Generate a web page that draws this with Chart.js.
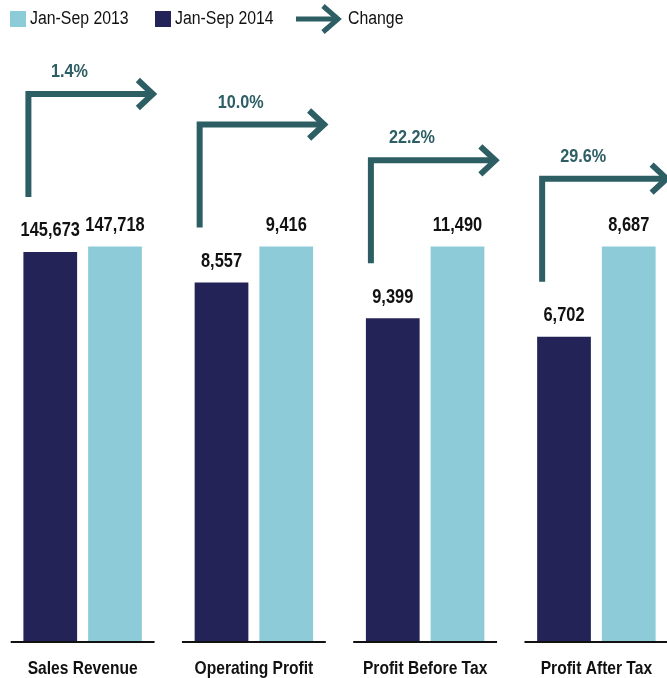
<!DOCTYPE html>
<html>
<head>
<meta charset="utf-8">
<script src="https://cdn.jsdelivr.net/npm/chart.js@4.4.0/dist/chart.umd.min.js"></script>
<style>
    html, body { margin: 0; padding: 0; background: #fff; overflow: hidden; }
    body { width: 667px; height: 678px; position: relative; font-family: "Liberation Sans", Arial, sans-serif; }
    #chart-box { position: absolute; left: -3px; top: 0; width: 685px; height: 678px; }
    .legend-item { position: absolute; font-size: 18px; color: #111; line-height: 20px; top: 8px;
                   transform: scaleX(0.88); transform-origin: left center; white-space: nowrap; }
    .swatch { position: absolute; width: 16px; height: 16px; top: 11px; }
</style>
</head>
<body>
<div id="chart-box"><canvas id="resultChart"></canvas></div>

<!-- Legend -->
<div class="swatch" style="left:10px;background:#8ccbd7"></div>
<div class="legend-item" style="left:30px">Jan-Sep 2013</div>
<div class="swatch" style="left:155px;background:#232357"></div>
<div class="legend-item" style="left:175px">Jan-Sep 2014</div>
<svg style="position:absolute;left:294px;top:4px" width="50" height="30" viewBox="0 0 50 30">
    <path d="M2 15 H44" stroke="#2d5e63" stroke-width="5" fill="none"/>
    <path d="M29 2 L44 15 L29 28" stroke="#2d5e63" stroke-width="5" fill="none"/>
</svg>
<div class="legend-item" style="left:348px">Change</div>

<script>
// ============================================
// DATA
// ============================================
const categories = ['Sales Revenue', 'Operating Profit', 'Profit Before Tax', 'Profit After Tax'];
const darkValues = [145673, 8557, 9399, 6702];    // left bar in each group
const lightValues = [147718, 9416, 11490, 8687];  // right bar in each group
const changeLabels = ['1.4%', '10.0%', '22.2%', '29.6%'];

const DARK = '#232357';
const LIGHT = '#8ccbd7';
const TEAL = '#2d5e63';
const FONT = '"Liberation Sans", Arial, sans-serif';
const SQUEEZE = 0.82;  // fake a condensed face

// each group is drawn against its own largest value
const groupMax = categories.map((_, i) => Math.max(darkValues[i], lightValues[i]));

function fmt(v) {
    return v.toLocaleString('en-US');
}

// centred text, squeezed horizontally
function narrowText(ctx, text, x, y, sx) {
    ctx.save();
    ctx.translate(x, y);
    ctx.scale(sx, 1);
    ctx.fillText(text, 0, 0);
    ctx.restore();
}

// Baselines, labels and change arrows
const decorPlugin = {
    id: 'decor',
    beforeDatasetsDraw(chart) {
        const ctx = chart.ctx;
        const xs = chart.scales.x;
        const step = xs.width / categories.length;
        const y = chart.chartArea.bottom + 1;
        ctx.save();
        ctx.strokeStyle = '#111';
        ctx.lineWidth = 2;
        categories.forEach((_, i) => {
            const cx = xs.getPixelForValue(i);
            ctx.beginPath();
            ctx.moveTo(cx - step * 0.42, y);
            ctx.lineTo(cx + step * 0.42, y);
            ctx.stroke();
        });

        // category names
        ctx.fillStyle = '#111';
        ctx.font = 'bold 19px ' + FONT;
        ctx.textAlign = 'center';
        ctx.textBaseline = 'alphabetic';
        categories.forEach((name, i) => {
            narrowText(ctx, name, xs.getPixelForValue(i), 673.5, SQUEEZE);
        });
        ctx.restore();
    },
    afterDatasetsDraw(chart) {
        const ctx = chart.ctx;
        const darkMeta = chart.getDatasetMeta(0);
        const lightMeta = chart.getDatasetMeta(1);
        ctx.save();

        // value labels
        ctx.fillStyle = '#111';
        ctx.font = 'bold 20px ' + FONT;
        ctx.textAlign = 'center';
        ctx.textBaseline = 'alphabetic';
        [[darkMeta, darkValues], [lightMeta, lightValues]].forEach(([meta, vals]) => {
            meta.data.forEach((bar, i) => {
                narrowText(ctx, fmt(vals[i]), bar.x, bar.y - 15.5, SQUEEZE);
            });
        });

        // change arrows
        ctx.strokeStyle = TEAL;
        ctx.fillStyle = TEAL;
        ctx.lineWidth = 6;
        ctx.lineJoin = 'miter';
        ctx.lineCap = 'butt';
        ctx.font = 'bold 18px ' + FONT;
        darkMeta.data.forEach((dBar, i) => {
            const lBar = lightMeta.data[i];
            const vx = dBar.x - dBar.width / 2 + 5;
            const bottom = dBar.y - 55;
            const top = bottom - 103;
            const tip = lBar.x + lBar.width / 2 + 11;

            ctx.beginPath();
            ctx.moveTo(vx, bottom);
            ctx.lineTo(vx, top);
            ctx.lineTo(tip - 2, top);
            ctx.stroke();

            ctx.beginPath();
            ctx.moveTo(tip - 15, top - 14);
            ctx.lineTo(tip, top);
            ctx.lineTo(tip - 15, top + 14);
            ctx.stroke();

            narrowText(ctx, changeLabels[i], vx + 41, top - 17, 0.9);
        });
        ctx.restore();
    }
};

document.addEventListener('DOMContentLoaded', function() {
    const ctx = document.getElementById('resultChart').getContext('2d');
    new Chart(ctx, {
        type: 'bar',
        data: {
            labels: categories,
            datasets: [{
                label: 'Jan-Sep 2014',
                data: darkValues.map((v, i) => v / groupMax[i]),
                backgroundColor: DARK
            }, {
                label: 'Jan-Sep 2013',
                data: lightValues.map((v, i) => v / groupMax[i]),
                backgroundColor: LIGHT
            }]
        },
        options: {
            responsive: true,
            maintainAspectRatio: false,
            animation: false,
            categoryPercentage: 0.756,
            barPercentage: 0.83,
            layout: { padding: { top: 0, left: 0, right: 0, bottom: 37 } },
            plugins: {
                legend: { display: false },
                tooltip: { enabled: false }
            },
            scales: {
                y: {
                    display: false,
                    min: 0,
                    max: 1.625
                },
                x: {
                    display: false
                }
            }
        },
        plugins: [decorPlugin]
    });
});
</script>
</body>
</html>
